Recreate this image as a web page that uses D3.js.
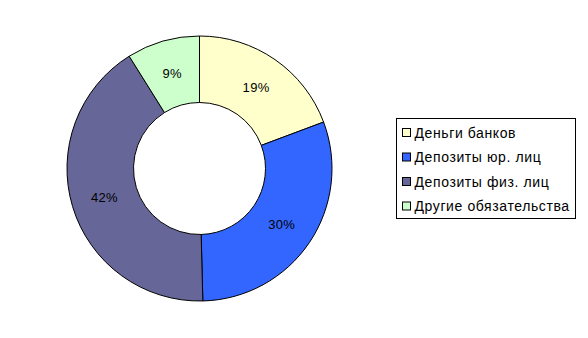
<!DOCTYPE html>
<html>
<head>
<meta charset="utf-8">
<script src="https://cdn.jsdelivr.net/npm/d3@7"></script>
<style>
  body { margin: 0; background: #fff; }
  text { font-family: "Liberation Sans", Arial, sans-serif; fill: #000; }
</style>
</head>
<body>
<script>

var categories = ['Деньги банков', 'Депозиты юр. лиц', 'Депозиты физ. лиц', 'Другие обязательства'];
var values = [19.3, 30.3, 41.5, 8.9];
var colors = ['#ffffcc', '#3366ff', '#666699', '#ccffcc'];

var width = 588;
var height = 338;
var svg = d3.select('body').append('svg')
  .attr('width', width)
  .attr('height', height);

var cx = 199.5, cy = 168.5;
var outerR = 132.5, innerR = 66;

var pie = d3.pie().sort(null).value(function(d){ return d; });
var arc = d3.arc().innerRadius(innerR).outerRadius(outerR);
var labelArc = d3.arc().innerRadius((innerR+outerR)/2).outerRadius((innerR+outerR)/2);

var total = d3.sum(values);
var g = svg.append('g').attr('transform', 'translate(' + cx + ',' + cy + ')');

var slices = g.selectAll('g.slice')
  .data(pie(values))
  .enter()
  .append('g').attr('class', 'slice');

slices.append('path')
  .attr('d', arc)
  .style('fill', function(d, i){ return colors[i]; })
  .style('stroke', '#000')
  .style('stroke-width', 1);

slices.append('text')
  .attr('transform', function(d){ return 'translate(' + labelArc.centroid(d) + ')'; })
  .attr('text-anchor', 'middle')
  .attr('dy', '0.36em')
  .style('font-size', '13px')
  .style('letter-spacing', '0.3px')
  .text(function(d){ return Math.round(d.value / total * 100) + '%'; });

// legend
var legend = svg.append('g').attr('transform', 'translate(396.5,118.5)');
legend.append('rect')
  .attr('width', 179)
  .attr('height', 100)
  .style('fill', '#fff')
  .style('stroke', '#000')
  .style('stroke-width', 1);

var rows = legend.selectAll('g.row')
  .data(categories)
  .enter()
  .append('g')
  .attr('class', 'row')
  .attr('transform', function(d, i){ return 'translate(0,' + (14 + i * 24.5) + ')'; });

rows.append('rect')
  .attr('x', 6)
  .attr('y', -4)
  .attr('width', 8)
  .attr('height', 8)
  .style('fill', function(d, i){ return colors[i]; })
  .style('stroke', '#000')
  .style('stroke-width', 1);

rows.append('text')
  .attr('x', 18)
  .attr('dy', '0.37em')
  .style('font-size', '14px')
  .style('letter-spacing', '0.6px')
  .text(function(d){ return d; });

</script>
</body>
</html>
